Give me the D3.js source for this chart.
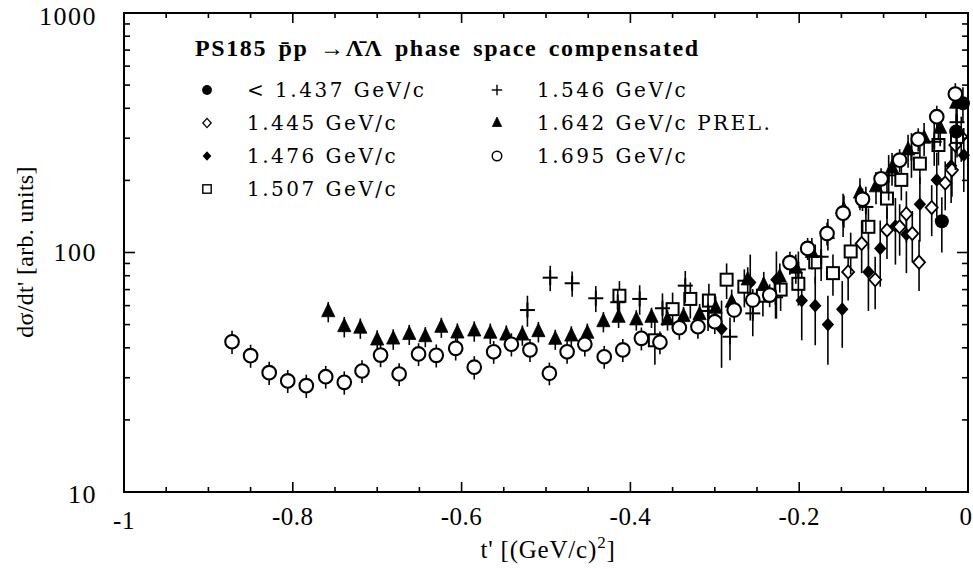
<!DOCTYPE html>
<html><head><meta charset="utf-8">
<script src="https://cdn.jsdelivr.net/npm/d3@7"></script>
<style>
html,body{margin:0;padding:0;background:#fff;}
svg{display:block;}
text{font-family:"Liberation Serif","Times New Roman",serif;fill:#000;}
</style></head>
<body>
<svg id="chart" width="973" height="569"></svg>
<script>
// ---------------- data ----------------
const xTickLabels = ["-1","-0.8","-0.6","-0.4","-0.2","0"];
const xTickValues = [-1,-0.8,-0.6,-0.4,-0.2,0];
const yTickValues = [10,100,1000];
const yTickLabels = ["10","100","1000"];

// < 1.437 GeV/c  (filled circle)
const t437 = [-0.031,-0.014,-0.006];
const v437 = [135,320,420];
const e437 = [35,60,70];

// 1.445 GeV/c (open diamond)
const t445 = [-0.142,-0.126,-0.110,-0.096,-0.081,-0.073,-0.066,-0.058,-0.043,-0.027,-0.019,-0.015,-0.008];
const v445 = [83,109,77,124,128,145,120,91,154,195,221,281,304];
const e445 = [20,27,19,30,31,35,29,22,37,45,50,60,65];

// 1.476 GeV/c (filled diamond)
const t476 = [-0.292,-0.258,-0.227,-0.197,-0.181,-0.166,-0.149,-0.118,-0.104,-0.086,-0.073,-0.057,-0.037,-0.020,-0.005];
const v476 = [48,75,77,63,60,50,58,83,104,129,119,159,201,230,255];
const e476 = [15,23,24,20,19,16,18,26,32,40,37,48,60,69,76];

// 1.507 GeV/c (open square)
const t507 = [-0.413,-0.371,-0.350,-0.329,-0.307,-0.286,-0.265,-0.243,-0.222,-0.201,-0.181,-0.160,-0.139,-0.118,-0.096,-0.079,-0.057,-0.035,-0.013];
const v507 = [66,43,58,64,63,77,72,66,70,74,91,82,101,128,168,201,235,281,304];
const e507 = [10,9,10,11,11,13,13,12,13,14,17,16,20,25,30,36,42,50,55];

// 1.546 GeV/c (plus)
const t546 = [-0.522,-0.495,-0.469,-0.441,-0.415,-0.389,-0.362,-0.335,-0.308,-0.282,-0.255,-0.228,-0.201,-0.174,-0.148,-0.121,-0.094,-0.067,-0.040,-0.013];
const v546 = [57.5,78.5,74.4,64.4,62,64.0,58.5,72.7,57,44.5,55.7,65,85,96,146,155,210,260,290,350];
const e546 = [8.5,9.5,9,8,8,9,9,11,10,9,11,12,16,20,30,33,45,55,60,70];

// 1.642 GeV/c PREL. (filled triangle)
const t642 = [-0.758,-0.739,-0.720,-0.700,-0.681,-0.662,-0.643,-0.624,-0.605,-0.585,-0.566,-0.547,-0.528,-0.509,-0.489,-0.470,-0.451,-0.432,-0.414,-0.393,-0.375,-0.356,-0.337,-0.318,-0.299,-0.280,-0.261,-0.242,-0.223,-0.204,-0.185,-0.166,-0.147,-0.128,-0.109,-0.090,-0.071,-0.052,-0.033,-0.014];
const v642 = [56.6,49.0,48.3,43.1,43.5,45.5,44.5,48.7,46.1,47.0,46.0,45.2,45.2,46.7,43.4,44.8,46.0,51.4,53.6,52.3,53.6,52.3,54.0,55,58.5,62,76.8,73,79,86,100,120,150,177,188,225,268,300,330,420];
const e642 = [5.5,4.8,4.7,4.2,4.3,4.4,4.3,4.7,4.5,4.6,4.5,4.4,4.4,4.6,4.2,4.4,4.5,5.0,5.2,5.1,5.2,5.1,5.3,6,7,8,10,10,11,12,15,18,23,27,29,35,42,47,52,66];

// 1.695 GeV/c (open circle)
const t695 = [-0.872,-0.850,-0.828,-0.806,-0.784,-0.761,-0.739,-0.718,-0.696,-0.674,-0.651,-0.630,-0.607,-0.585,-0.562,-0.541,-0.519,-0.496,-0.475,-0.454,-0.431,-0.409,-0.387,-0.365,-0.342,-0.320,-0.300,-0.277,-0.255,-0.235,-0.211,-0.190,-0.167,-0.148,-0.125,-0.103,-0.081,-0.059,-0.037,-0.015];
const v695 = [42.4,37.1,31.5,29.1,27.8,30.3,28.7,32.0,37.3,31.1,37.7,37.2,39.8,33.2,38.5,41.4,39.2,31.3,38.5,41.4,36.7,39.2,43.8,42.2,48.5,49,51.4,57.5,63.3,66.4,90.7,104,120,146,167,203,243,297,369,459];
const e695 = [4.7,4.1,3.5,3.2,3.1,3.3,3.2,3.5,4.1,3.4,4.1,4.1,4.4,3.7,4.2,4.6,4.3,3.4,4.2,4.6,4.0,4.3,4.8,4.6,5.3,5.4,5.7,6.3,7.0,7.3,10,11,13,16,18,22,27,33,41,50];

const legendLabels = ["< 1.437 GeV/c","1.445 GeV/c","1.476 GeV/c","1.507 GeV/c","1.546 GeV/c","1.642 GeV/c  PREL.","1.695 GeV/c"];
const legendKinds  = ["fcircle","odiamond","fdiamond","osquare","plus","ftriangle","ocircle"];

// ---------------- drawing ----------------
const svg = d3.select("#chart");
const L = 124, R = 968, T = 13, B = 492;
const x = d3.scaleLinear().domain([-1,0]).range([L,R]);
const y = d3.scaleLog().domain([10,1000]).range([B,T]);

function zip(t,v,e){ return t.map((d,i)=>({t:d,v:v[i],e:e[i]})); }
const series = [
  {kind:"fdiamond", data:zip(t476,v476,e476)},
  {kind:"odiamond", data:zip(t445,v445,e445)},
  {kind:"osquare", data:zip(t507,v507,e507)},
  {kind:"plus", data:zip(t546,v546,e546)},
  {kind:"ftriangle", data:zip(t642,v642,e642)},
  {kind:"fcircle", data:zip(t437,v437,e437)},
  {kind:"ocircle", data:zip(t695,v695,e695)}
];

function drawMarker(g, kind, s){
  if(kind==="ocircle"){
    g.append("circle").attr("r",6.8*s).attr("fill","#fff").attr("stroke","#000").attr("stroke-width",2.1*s);
  } else if(kind==="fcircle"){
    g.append("circle").attr("r",7*s).attr("fill","#000");
  } else if(kind==="ftriangle"){
    const a=6.6*s;
    g.append("path").attr("d",`M0,${-8.5*s}L${a},${5*s}L${-a},${5*s}Z`).attr("fill","#000").attr("stroke","#000").attr("stroke-width",0.8);
  } else if(kind==="osquare"){
    const a=6*s;
    g.append("rect").attr("x",-a).attr("y",-a).attr("width",2*a).attr("height",2*a).attr("fill","#fff").attr("stroke","#000").attr("stroke-width",2*s);
  } else if(kind==="fdiamond"){
    const a=6.2*s;
    g.append("path").attr("d",`M0,${-a*1.1}L${a},0L0,${a*1.1}L${-a},0Z`).attr("fill","#000");
  } else if(kind==="odiamond"){
    const a=6*s;
    g.append("path").attr("d",`M0,${-a*1.1}L${a},0L0,${a*1.1}L${-a},0Z`).attr("fill","#fff").attr("stroke","#000").attr("stroke-width",1.8*s);
  } else if(kind==="plus"){
    const a=7.5*s;
    g.append("line").attr("x1",-a).attr("x2",a).attr("stroke","#000").attr("stroke-width",2*s);
    g.append("line").attr("y1",-a).attr("y2",a).attr("stroke","#000").attr("stroke-width",2*s);
  }
}

// data
const plot = svg.append("g");
series.forEach(sr=>{
  const g = plot.append("g");
  sr.data.forEach(d=>{
    const px = x(d.t);
    g.append("line").attr("x1",px).attr("x2",px)
      .attr("y1",y(d.v+d.e)).attr("y2",y(Math.max(d.v-d.e,10.5)))
      .attr("stroke","#000").attr("stroke-width",1.6);
    const m = g.append("g").attr("transform",`translate(${px},${y(d.v)})`);
    drawMarker(m, sr.kind, 1);
  });
});

// frame
svg.append("rect").attr("x",L).attr("y",T).attr("width",R-L).attr("height",B-T)
  .attr("fill","none").attr("stroke","#000").attr("stroke-width",2);

// ticks
const xMinor = d3.range(0,21).map(i=>-1+i*0.05);
const tk = svg.append("g").attr("stroke","#000").attr("stroke-width",1.6);
xMinor.forEach(v=>{
  const major = xTickValues.some(m=>Math.abs(m-v)<1e-6);
  const len = major?10:5;
  tk.append("line").attr("x1",x(v)).attr("x2",x(v)).attr("y1",B).attr("y2",B-len);
  tk.append("line").attr("x1",x(v)).attr("x2",x(v)).attr("y1",T).attr("y2",T+len);
});
const yMinor = [];
[10,100].forEach(dec=>{ for(let k=1;k<10;k++) yMinor.push(dec*k); });
yMinor.push(1000);
yMinor.forEach(v=>{
  const major = yTickValues.includes(v);
  const len = major?11:6;
  tk.append("line").attr("x1",L).attr("x2",L+len).attr("y1",y(v)).attr("y2",y(v));
  tk.append("line").attr("x1",R).attr("x2",R-len).attr("y1",y(v)).attr("y2",y(v));
});

// tick labels
xTickValues.forEach((v,i)=>{
  svg.append("text").attr("x",x(v)+(i===5?-2:0)).attr("y",i===0?529:525)
    .attr("text-anchor","middle").attr("font-size",25).attr("letter-spacing",0.5)
    .text(xTickLabels[i]);
});
const yLabelDy = [11, 8, 12];
yTickValues.forEach((v,i)=>{
  svg.append("text").attr("x",97).attr("y",y(v)+yLabelDy[i])
    .attr("text-anchor","end").attr("font-size",26).attr("letter-spacing",1.5)
    .text(yTickLabels[i]);
});

// axis titles
const xt = svg.append("text").attr("x",548).attr("y",558).attr("text-anchor","middle").attr("font-size",25).attr("letter-spacing",0.8);
xt.append("tspan").text("t' [(GeV/c)");
xt.append("tspan").attr("dy",-10).attr("font-size",17).text("2");
xt.append("tspan").attr("dy",10).text("]");

svg.append("text").attr("transform","translate(33,252) rotate(-90)")
  .attr("text-anchor","middle").attr("font-size",24).attr("letter-spacing",0.3).text("dσ/dt' [arb. units]");

// title
const title = svg.append("text").attr("x",195).attr("y",56).attr("font-size",24).attr("font-weight","bold")
  .attr("letter-spacing",1.6).attr("word-spacing",4);
title.append("tspan").text("PS185  p\u0304p ");
title.append("tspan").attr("font-weight","normal").text("\u2192");
title.append("tspan").text("\u039B\u0304\u039B  phase space compensated");

// legend
const lg = svg.append("g");
const colX = [207, 497], txtX = [247, 537], rowY = [90,123,156,189];
legendLabels.forEach((lab,i)=>{
  const col = i<4?0:1, row = i<4?i:i-4;
  const m = lg.append("g").attr("transform",`translate(${colX[col]},${rowY[row]})`);
  drawMarker(m, legendKinds[i], 0.7);
  lg.append("text").attr("x",txtX[col]).attr("y",rowY[row]+7)
    .style("font-family","'DejaVu Serif',serif").attr("font-size",20).attr("letter-spacing",2.5).text(lab);
});
</script>
</body></html>
